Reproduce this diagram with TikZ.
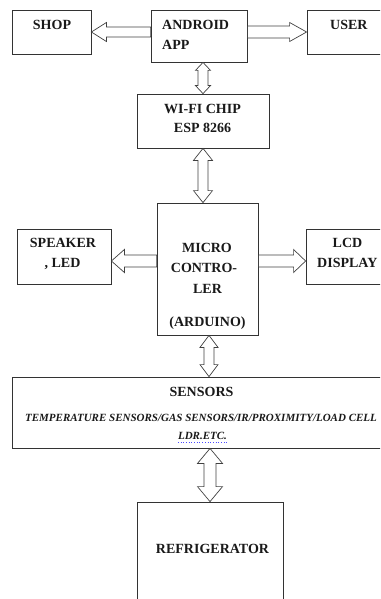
\documentclass[tikz,border=0pt]{standalone}
\usepackage{fontspec}
\setmainfont{Liberation Serif}
\usetikzlibrary{calc}
\tikzset{
  box/.style={draw=black!80, line width=0.8pt, inner sep=0pt, rectangle},
  lbl/.style={font=\fontsize{14}{16}\selectfont\bfseries, inner sep=0pt, anchor=base, text=black!90},
  lblw/.style={lbl, anchor=base west},
  itl/.style={font=\fontsize{11}{13}\selectfont\bfseries\itshape, inner sep=0pt, anchor=base, text=black!90},
  blk/.style={draw=black!75, line width=0.7pt, line join=miter},
}
% single-headed block arrow: tail, tip, shaft half-width, head half-width, head length
\newcommand\blockarrow[5]{%
  \draw[blk] ($(#1)!#3!90:(#2)$) -- ($(#2)!#5!(#1)!#3!-90:(#1)$) -- ($(#2)!#5!(#1)!#4!-90:(#1)$) -- (#2)
    -- ($(#2)!#5!(#1)!#4!90:(#1)$) -- ($(#2)!#5!(#1)!#3!90:(#1)$) -- ($(#1)!#3!-90:(#2)$) -- cycle;}
% double-headed block arrow: end A, end B, shaft half-width, head half-width, head length
\newcommand\dblarrow[5]{%
  \draw[blk] (#1) -- ($(#1)!#5!(#2)!#4!90:(#2)$) -- ($(#1)!#5!(#2)!#3!90:(#2)$)
    -- ($(#2)!#5!(#1)!#3!-90:(#1)$) -- ($(#2)!#5!(#1)!#4!-90:(#1)$) -- (#2)
    -- ($(#2)!#5!(#1)!#4!90:(#1)$) -- ($(#2)!#5!(#1)!#3!90:(#1)$)
    -- ($(#1)!#5!(#2)!#3!-90:(#2)$) -- ($(#1)!#5!(#2)!#4!-90:(#2)$) -- cycle;}
\begin{document}
\begin{tikzpicture}[x=1pt, y=-1pt]
\clip (0,0) rectangle (380,599);
% boxes
\node[box, minimum width=79pt,  minimum height=44pt]  (shop)    at (51.5,32)   {};
\node[box, minimum width=96pt,  minimum height=52pt]  (app)     at (199,36)    {};
\node[box, minimum width=83pt,  minimum height=44pt]  (user)    at (348.5,32)  {};
\node[box, minimum width=132pt, minimum height=54pt]  (wifi)    at (203,121)   {};
\node[box, minimum width=101pt, minimum height=132pt] (micro)   at (207.5,269) {};
\node[box, minimum width=94pt,  minimum height=55pt]  (speaker) at (64,256.5)  {};
\node[box, minimum width=84pt,  minimum height=55pt]  (lcd)     at (348,256.5) {};
\node[box, minimum width=388pt, minimum height=71pt]  (sensors) at (206,412.5) {};
\node[box, minimum width=146pt, minimum height=138pt] (fridge)  at (210,571)   {};
% texts
\node[lbl]  (shopT)  at (52,29.6)    {SHOP};
\node[lblw] (appT1)  at (162,29.6)   {ANDROID};
\node[lblw] (appT2)  at (162,50)     {APP};
\node[lblw] (userT)  at (330,29.6)   {USER};
\node[lbl]  (wifiT1) at (202.5,113.6) {WI-FI CHIP};
\node[lbl]  (wifiT2) at (202.5,132.6) {ESP 8266};
\node[lbl]  (spkT1)  at (63,247.6)   {SPEAKER};
\node[lbl]  (spkT2)  at (62.5,267.6) {, LED};
\node[lbl]  (lcdT1)  at (347.5,247.6) {LCD};
\node[lblw] (lcdT2)  at (317,267.6)  {DISPLAY};
\node[lbl]  (micT1)  at (207,252)    {MICRO};
\node[lbl]  (micT2)  at (204,272.6)  {CONTRO-};
\node[lbl]  (micT3)  at (207.5,293.6) {LER};
\node[lbl]  (micT4)  at (207.5,326.6) {(ARDUINO)};
\node[lbl]  (sensT1) at (201.5,396.6) {SENSORS};
\node[itl]  (sensT2) at (201,421.6)  {TEMPERATURE SENSORS/GAS SENSORS/IR/PROXIMITY/LOAD CELL};
\node[itl]  (sensT3) at (202.5,439.6) {LDR.ETC.};
\node[lbl]  (fridgeT) at (212.5,553.6) {REFRIGERATOR};
\draw[blue!70, dotted, line width=0.7pt] ([yshift=-3pt]sensT3.base west) -- ([yshift=-3pt]sensT3.base east);
% connector end points
\coordinate (appW)  at (app.west |- shop.east);
\coordinate (appE)  at (app.east |- user.west);
\coordinate (appS)  at (app.south -| wifi.north);
\coordinate (micN)  at (micro.north -| wifi.south);
\coordinate (spkE)  at ([yshift=-4.5pt]speaker.east);
\coordinate (micW)  at (micro.west |- spkE);
\coordinate (lcdW)  at ([yshift=-4.5pt]lcd.west);
\coordinate (micE)  at (micro.east |- lcdW);
\coordinate (micS)  at ([xshift=1.5pt]micro.south);
\coordinate (sensN) at (sensors.north -| micS);
\coordinate (sensS) at (sensors.south -| fridge.north);
% connectors
\blockarrow{appW}{shop.east}{5pt}{9.5pt}{15pt}
\blockarrow{appE}{user.west}{6pt}{9.5pt}{17pt}
\dblarrow{appS}{wifi.north}{5pt}{7.5pt}{8pt}
\dblarrow{wifi.south}{micN}{5pt}{9.5pt}{12pt}
\blockarrow{micW}{spkE}{6pt}{11.5pt}{13pt}
\blockarrow{micE}{lcdW}{6pt}{11.5pt}{12pt}
\dblarrow{micS}{sensN}{5pt}{9pt}{12pt}
\dblarrow{sensS}{fridge.north}{6pt}{12.5pt}{15pt}
\end{tikzpicture}
\end{document}
